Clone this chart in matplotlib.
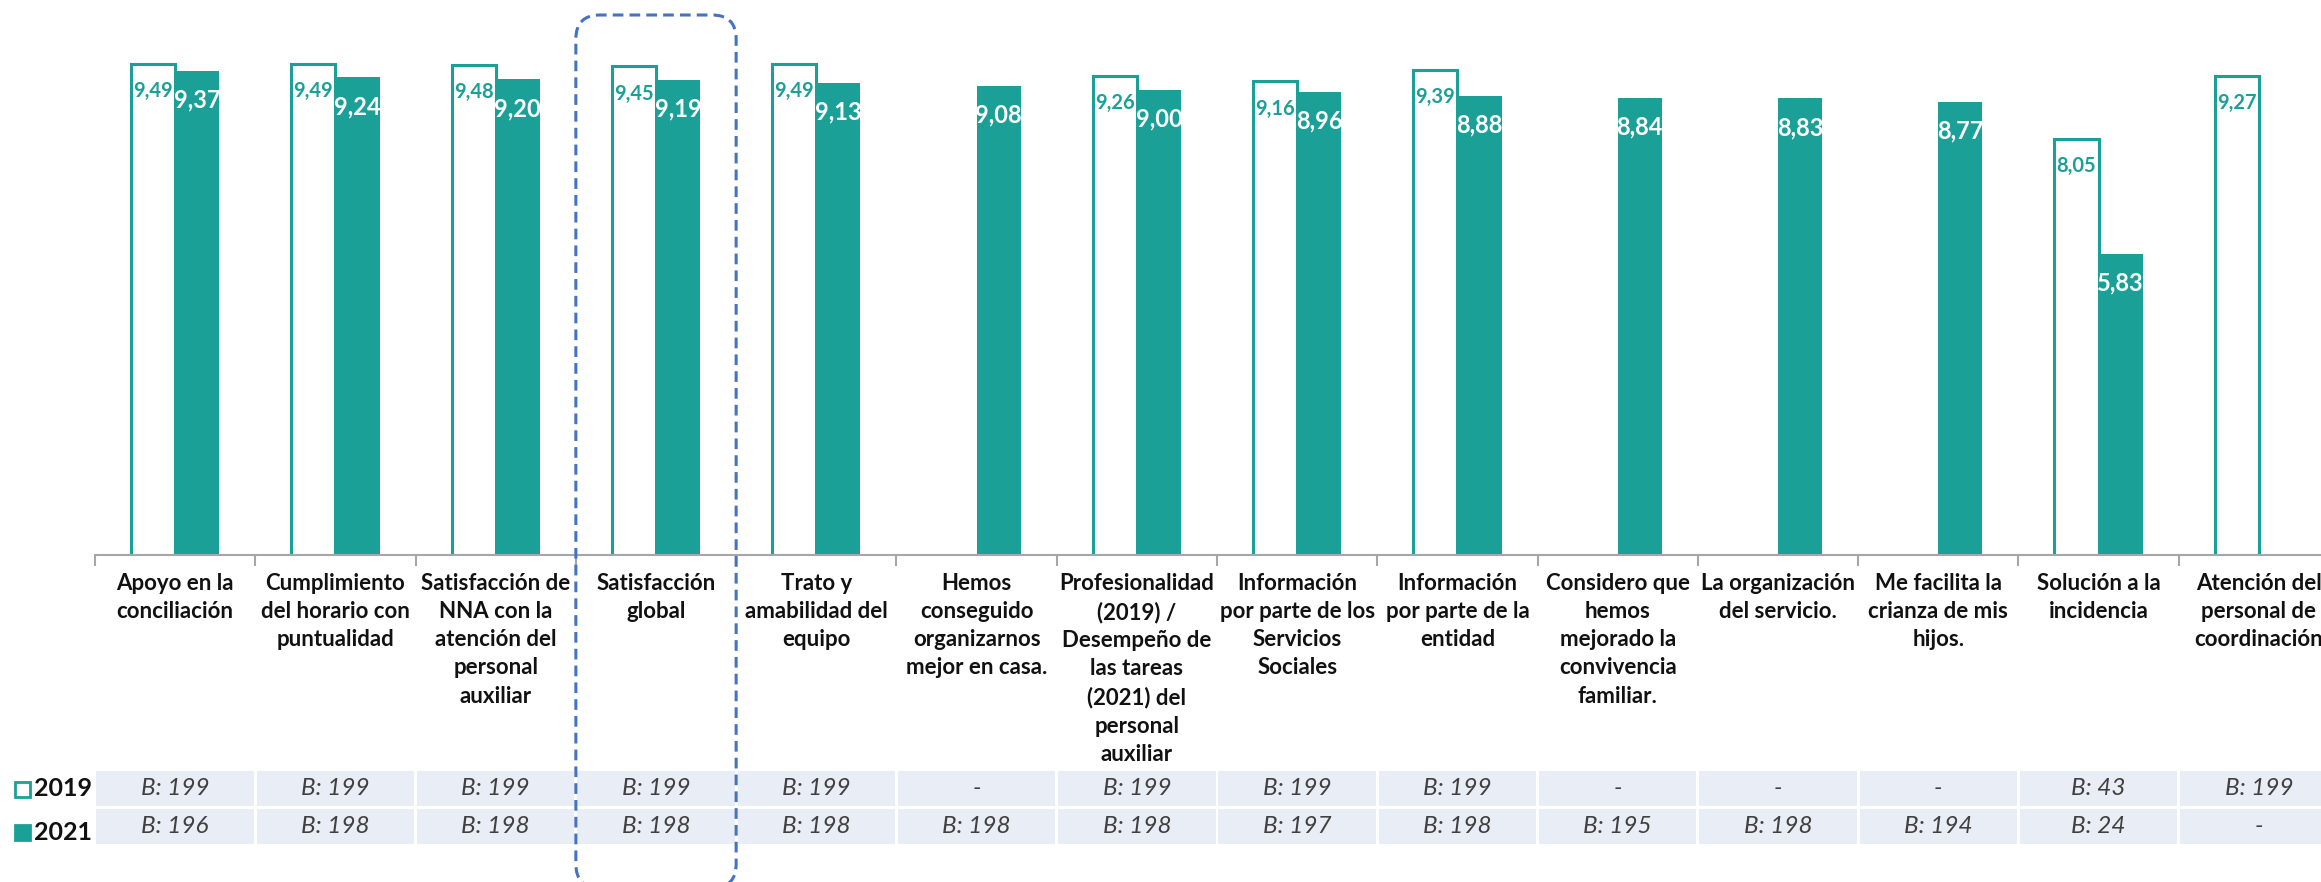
import numpy as np
import matplotlib.pyplot as plt
from matplotlib.patches import Rectangle, FancyBboxPatch
from matplotlib.transforms import blended_transform_factory, IdentityTransform

plt.rcParams['font.family'] = ['Lato', 'DejaVu Sans']

categories = [
    "Apoyo en la\nconciliación",
    "Cumplimiento\ndel horario con\npuntualidad",
    "Satisfacción de\nNNA con la\natención del\npersonal\nauxiliar",
    "Satisfacción\nglobal",
    "Trato y\namabilidad del\nequipo",
    "Hemos\nconseguido\norganizarnos\nmejor en casa.",
    "Profesionalidad\n(2019) /\nDesempeño de\nlas tareas\n(2021) del\npersonal\nauxiliar",
    "Información\npor parte de los\nServicios\nSociales",
    "Información\npor parte de la\nentidad",
    "Considero que\nhemos\nmejorado la\nconvivencia\nfamiliar.",
    "La organización\ndel servicio.",
    "Me facilita la\ncrianza de mis\nhijos.",
    "Solución a la\nincidencia",
    "Atención del\npersonal de\ncoordinación",
]
v2019 = [9.49, 9.49, 9.48, 9.45, 9.49, np.nan, 9.26, 9.16, 9.39,
         np.nan, np.nan, np.nan, 8.05, 9.27]
v2021 = [9.37, 9.24, 9.20, 9.19, 9.13, 9.08, 9.00, 8.96, 8.88,
         8.84, 8.83, 8.77, 5.83, np.nan]
base2019 = ["B: 199", "B: 199", "B: 199", "B: 199", "B: 199", "-", "B: 199",
            "B: 199", "B: 199", "-", "-", "-", "B: 43", "B: 199"]
base2021 = ["B: 196", "B: 198", "B: 198", "B: 198", "B: 198", "B: 198", "B: 198",
            "B: 197", "B: 198", "B: 195", "B: 198", "B: 194", "B: 24", "-"]
years = ["2019", "2021"]

teal = '#1BA098'
W, H = 2321, 882

fig = plt.figure(figsize=(W / 100, H / 100), dpi=100)
# last column runs past the right edge on purpose
ax = fig.add_axes([95 / W, (H - 555) / H, 2244 / W, 555 / H])

x = np.arange(len(categories))
bw = 0.275
a19 = np.array(v2019)
a21 = np.array(v2021)
m19 = ~np.isnan(a19)
m21 = ~np.isnan(a21)

ax.bar(x[m19] - bw / 2, a19[m19], bw, facecolor='white', edgecolor=teal, linewidth=2.2, zorder=2)
ax.bar(x[m21] + bw / 2, a21[m21], bw, color=teal, zorder=2)

def fmt(v):
    return f"{v:.2f}".replace('.', ',')

for xi, v in zip(x[m19], a19[m19]):
    ax.annotate(fmt(v), (xi - bw / 2, v), xytext=(0, -19.5), textcoords='offset points',
                ha='center', va='center', color=teal, fontsize=14.5, fontweight='bold', zorder=3)
for xi, v in zip(x[m21], a21[m21]):
    ax.annotate(fmt(v), (xi + bw / 2, v), xytext=(0, -21), textcoords='offset points',
                ha='center', va='center', color='white', fontsize=17, fontweight='bold', zorder=3)

ax.set_xlim(-0.5, len(categories) - 0.5)
ax.set_ylim(0, 555 / 51.7)
ax.set_yticks([])
for s in ['left', 'top', 'right']:
    ax.spines[s].set_visible(False)
ax.spines['bottom'].set_color('#A6A6A6')
ax.spines['bottom'].set_linewidth(1.5)

ax.set_xticks(x)
ax.set_xticklabels(categories, fontsize=16, fontweight='bold', color='#111111',
                   linespacing=1.42, va='top')
ax.tick_params(axis='x', which='major', length=0, pad=13)
ax.set_xticks(np.arange(-0.5, len(categories)), minor=True)
ax.tick_params(axis='x', which='minor', length=8, width=1.5, color='#A6A6A6')

# sample-size table under the chart
tr = blended_transform_factory(ax.transData, fig.transFigure)
rows = [(base2019, 771, 806), (base2021, 809, 844)]
gap = 1.5 / 160.3
for labels, top, bot in rows:
    y0 = (H - bot) / H
    hh = (bot - top) / H
    for xi, lab in zip(x, labels):
        ax.add_patch(Rectangle((xi - 0.5 + gap, y0), 1 - 2 * gap, hh, transform=tr,
                               facecolor='#E9EDF5', edgecolor='none', clip_on=False))
        ax.text(xi, y0 + hh / 2, lab, transform=tr, ha='center', va='center',
                fontsize=17.5, fontstyle='italic', color='#404040', clip_on=False)

# year keys at the left of the table
for yr, yc, filled in [(years[0], 789, False), (years[1], 832, True)]:
    fig.patches.append(Rectangle((15, H - yc - 7.5), 15, 15, transform=IdentityTransform(),
                                 facecolor=teal if filled else 'white', edgecolor=teal,
                                 linewidth=2))
    fig.text(34 / W, (H - yc) / H, yr, ha='left', va='center', fontsize=18,
             fontweight='bold', color='#111111')

# dashed highlight around "Satisfacción global"
fig.canvas.draw()
x0 = ax.transData.transform((2.5, 0))[0]
x1 = ax.transData.transform((3.5, 0))[0]
box = FancyBboxPatch((x0, H - 888), x1 - x0, 888 - 15,
                     boxstyle="round,pad=0,rounding_size=24", transform=IdentityTransform(),
                     facecolor='none', edgecolor='#4472C4', linewidth=2.2,
                     linestyle=(0, (3.5, 2)))
fig.patches.append(box)

fig.savefig('out.png', dpi=100)
